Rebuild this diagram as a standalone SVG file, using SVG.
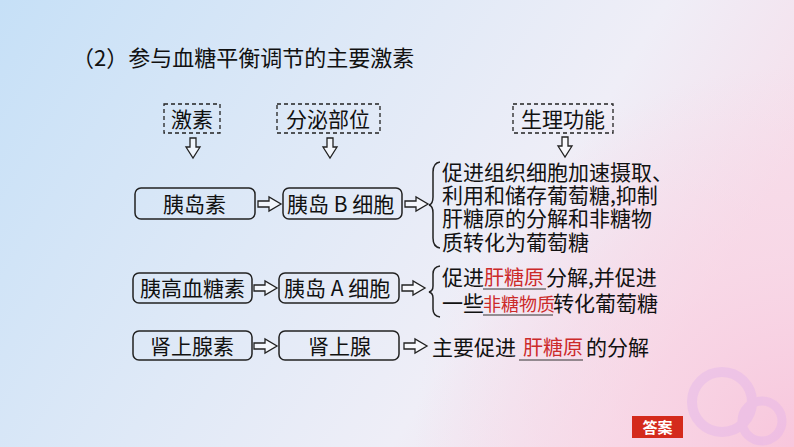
<svg xmlns="http://www.w3.org/2000/svg" width="794" height="447" viewBox="0 0 794 447">
<defs>
<linearGradient id="bg" x1="0" y1="0" x2="1" y2="0.35">
<stop offset="0" stop-color="#c6e0f7"/>
<stop offset="0.45" stop-color="#dfe9f7"/>
<stop offset="0.75" stop-color="#efeef7"/>
<stop offset="1" stop-color="#f6dfeb"/>
</linearGradient>
<radialGradient id="pink" cx="794" cy="447" r="380" gradientUnits="userSpaceOnUse">
<stop offset="0" stop-color="#f8c3da" stop-opacity="0.9"/>
<stop offset="0.5" stop-color="#f9d2e3" stop-opacity="0.55"/>
<stop offset="1" stop-color="#f9d2e3" stop-opacity="0"/>
</radialGradient>
<path id="ra" d="M0,-3 H11 V-7 L23,0 L11,7 V3 H0 Z"/>
<path id="da" d="M-3,0 V9 H-7 L0,20 L7,9 H3 V0 Z"/>
</defs>
<style>
.t{font-family:"Noto Sans CJK SC","Noto Sans",sans-serif;fill:#111;font-size:21px}
.r{fill:#cc2a2a}
.box{fill:none;stroke:#222;stroke-width:1.5}
.dash{fill:none;stroke:#222;stroke-width:1.3;stroke-dasharray:4 3}
.arr{fill:#fff;fill-opacity:0.6;stroke:#222;stroke-width:1.3;stroke-linejoin:miter}
.brace{fill:none;stroke:#222;stroke-width:1.5}
.ul{stroke:#333;stroke-width:1}
</style>
<rect width="794" height="447" fill="url(#bg)"/>
<rect width="794" height="447" fill="url(#pink)"/>
<g opacity="0.3" fill="none" stroke="#d9a8f0">
<circle cx="722" cy="402" r="30" stroke-width="10"/>
<circle cx="762" cy="421" r="20" stroke-width="9"/>
</g>
<text class="t" x="72" y="66" style="font-size:22px">（2）参与血糖平衡调节的主要激素</text>

<g id="h-jisu"><rect class="dash" x="164" y="104" width="56" height="29"/><text class="t" x="171" y="127">激素</text></g>
<g id="h-fenmi"><rect class="dash" x="277" y="104" width="103" height="29"/><text class="t" x="286" y="127">分泌部位</text></g>
<g id="h-shengli"><rect class="dash" x="513" y="104" width="100" height="29"/><text class="t" x="521" y="127">生理功能</text></g>

<g id="n-insulin"><rect class="box" x="135" y="188" width="120" height="31" rx="6"/><text class="t" x="163" y="212">胰岛素</text></g>
<g id="n-bcell"><rect class="box" x="283" y="188" width="119" height="31" rx="6"/><text class="t" x="287" y="212">胰岛 B 细胞</text></g>
<g id="n-glucagon"><rect class="box" x="133" y="273" width="119" height="30" rx="6"/><text class="t" x="140" y="296">胰高血糖素</text></g>
<g id="n-acell"><rect class="box" x="279" y="273" width="120" height="30" rx="6"/><text class="t" x="284" y="296">胰岛 A 细胞</text></g>
<g id="n-adrenaline"><rect class="box" x="133" y="331" width="119" height="29" rx="6"/><text class="t" x="150" y="354">肾上腺素</text></g>
<g id="n-adrenal"><rect class="box" x="279" y="331" width="120" height="29" rx="6"/><text class="t" x="308" y="354">肾上腺</text></g>

<g id="f-insulin">
<path class="brace" d="M440,162 Q433,163 433,172 V197 Q433,204 429,205 Q433,206 433,213 V238 Q433,247 440,248"/>
<text class="t"><tspan x="442" y="180">促进组织细胞加速摄取、</tspan><tspan x="442" y="203">利用和储存葡萄糖,抑制</tspan><tspan x="442" y="226">肝糖原的分解和非糖物</tspan><tspan x="442" y="250">质转化为葡萄糖</tspan></text>
</g>
<g id="f-glucagon">
<path class="brace" d="M440,266 Q433,267 433,274 V286 Q433,291 429,292 Q433,293 433,298 V309 Q433,316 440,317"/>
<text class="t"><tspan x="442" y="285">促进</tspan><tspan class="r" x="484" y="285" style="font-size:20px">肝糖原</tspan><tspan x="546" y="285">分解,并促进</tspan><tspan x="442" y="311">一些</tspan><tspan class="r" x="483" y="311" style="font-size:18px">非糖物质</tspan><tspan x="553" y="311">转化葡萄糖</tspan></text>
<line class="ul" x1="483" y1="289" x2="546" y2="289"/>
<line class="ul" x1="483" y1="315" x2="553" y2="315"/>
</g>
<g id="f-adrenaline">
<text class="t"><tspan x="432" y="355">主要促进</tspan><tspan class="r" x="523" y="355" style="font-size:20px">肝糖原</tspan><tspan x="586" y="355">的分解</tspan></text>
<line class="ul" x1="519" y1="360" x2="583" y2="360"/>
</g>

<g id="connectors">
<use href="#da" class="arr" x="193" y="138"/>
<use href="#da" class="arr" x="330" y="138"/>
<use href="#da" class="arr" x="565" y="137"/>
<use href="#ra" class="arr" x="258" y="204"/>
<use href="#ra" class="arr" x="405" y="204"/>
<use href="#ra" class="arr" x="254" y="288"/>
<use href="#ra" class="arr" x="402" y="288"/>
<use href="#ra" class="arr" x="254" y="346"/>
<use href="#ra" class="arr" x="404" y="346"/>
</g>

<g id="answer"><rect x="632" y="416" width="51" height="22" fill="#d42a1c"/><text x="657.5" y="433" text-anchor="middle" style="font-family:'Noto Sans CJK SC',sans-serif;font-size:15px;font-weight:bold;fill:#fff">答案</text></g>
</svg>
